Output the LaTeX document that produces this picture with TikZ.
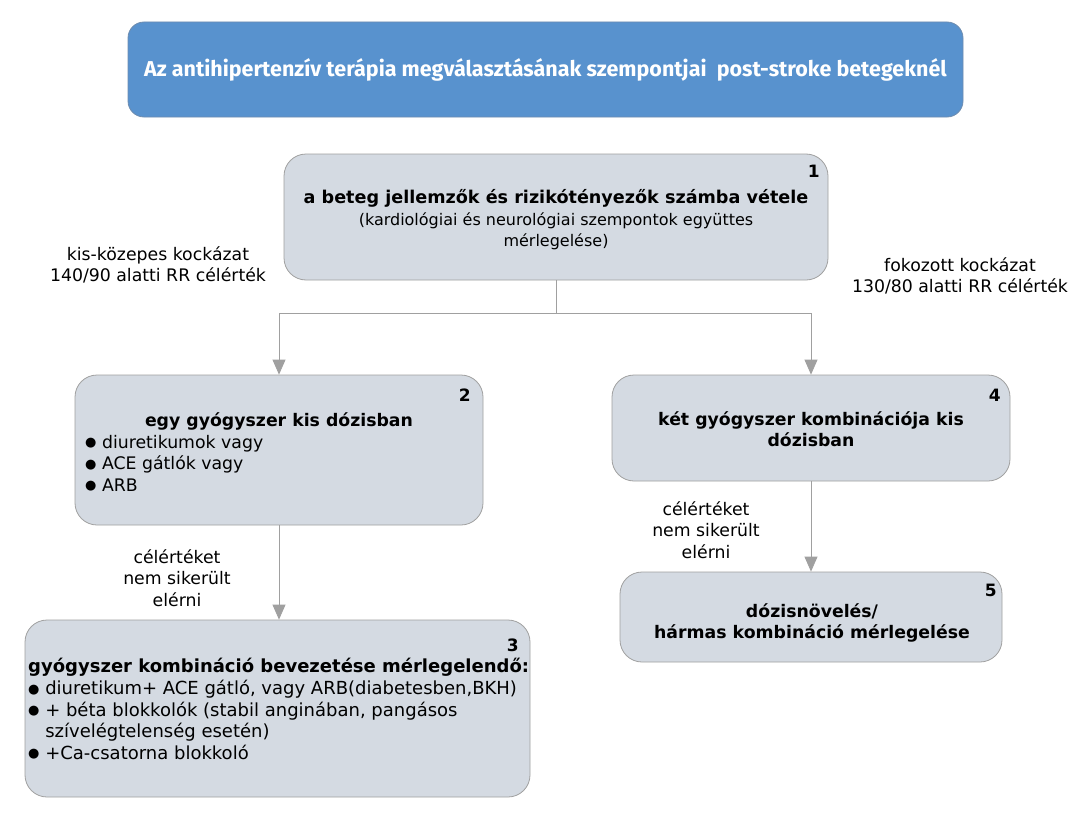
\documentclass[tikz,border=0pt]{standalone}
\usepackage{fontspec}
\setmainfont{DejaVu Sans}
\newfontfamily\headfont{Fira Sans}
\usetikzlibrary{arrows.meta,positioning}
\definecolor{headblue}{RGB}{88,146,206}
\definecolor{headedge}{RGB}{110,140,175}
\definecolor{boxgray}{RGB}{212,218,226}
\definecolor{linegray}{RGB}{160,160,160}
\newcommand{\blt}{\raisebox{1.5pt}{\fontsize{13}{13}\selectfont●}\ }

\begin{document}
\begin{tikzpicture}[x=1pt,y=-1pt]
  \tikzstyle{head}=[draw=headedge,thick,rounded corners=16pt,fill=headblue,
    minimum width=835pt,minimum height=95pt,text=white,font=\headfont\fontsize{21.5}{21.5}\selectfont\bfseries]
  \tikzstyle{box}=[draw=linegray,thick,rounded corners=22pt,fill=boxgray,inner sep=0pt]
  \tikzstyle{num}=[anchor=north east,inner sep=0pt,font=\fontsize{17}{17}\selectfont\bfseries]
  \tikzstyle{txt}=[inner sep=0pt,align=center,font=\fontsize{17.3}{21.5}\selectfont]
  \tikzstyle{lst}=[inner sep=0pt,align=left,anchor=west,font=\fontsize{17.3}{21.5}\selectfont]
  \tikzstyle{flow}=[-{Triangle[width=13pt,length=15pt]},linegray,thick]

  \useasboundingbox[fill=white] (0,0) rectangle (1084,816);

  % -- Title --
  \node[head] (head) at (545.5,69.5) {Az antihipertenzív terápia megválasztásának szempontjai \ post-stroke betegeknél};

  % -- Step 1 --
  \node[box,minimum width=544pt,minimum height=126pt] (b1) at (556,217) {};
  \node[num] (n1) at (820,165) {1};
  \node[txt,font=\fontsize{16}{21.5}\selectfont] (t1) at (556,220)
    {{\fontsize{17.6}{21.5}\selectfont\bfseries a beteg jellemzők és rizikótényezők számba vétele}\\
    (kardiológiai és neurológiai szempontok együttes\\ mérlegelése)};

  % -- Risk labels --
  \node[txt] (lowrisk) at (158,265) {kis-közepes kockázat\\ 140/90 alatti RR célérték};
  \node[txt] (highrisk) at (960,276) {fokozott kockázat\\ 130/80 alatti RR célérték};

  % -- Step 2 --
  \node[box,minimum width=408pt,minimum height=150pt] (b2) at (279,450) {};
  \node[num] (n2) at (471,389) {2};
  \node[txt,font=\fontsize{17.3}{21.5}\selectfont\bfseries] (t2) at (279,421) {egy gyógyszer kis dózisban};
  \node[lst] (l2) at (85,463) {\blt diuretikumok vagy\\ \blt ACE gátlók vagy\\ \blt ARB};

  % -- Step 4 --
  \node[box,minimum width=398pt,minimum height=106pt] (b4) at (811,428) {};
  \node[num] (n4) at (1001,389) {4};
  \node[txt,font=\fontsize{17.3}{21.5}\selectfont\bfseries] (t4) at (811,429) {két gyógyszer kombinációja kis\\ dózisban};

  % -- Step 3 --
  \node[box,minimum width=505pt,minimum height=177pt] (b3) at (277.5,708.5) {};
  \node[num] (n3) at (519,639) {3};
  \node[lst,font=\fontsize{18}{21.5}\selectfont\bfseries] (t3) at (28,667) {gyógyszer kombináció bevezetése mérlegelendő:};
  \node[lst,font=\fontsize{18}{21.5}\selectfont] (l3) at (28,720) {\blt diuretikum+ ACE gátló, vagy ARB(diabetesben,BKH)\\
    \blt + béta blokkolók (stabil anginában, pangásos\\
    \hphantom{\blt}szívelégtelenség esetén)\\
    \blt +Ca-csatorna blokkoló};

  % -- Step 5 --
  \node[box,minimum width=382pt,minimum height=90pt] (b5) at (811,617) {};
  \node[num] (n5) at (997,584) {5};
  \node[txt,font=\fontsize{17.3}{21.5}\selectfont\bfseries] (t5) at (812,623) {dózisnövelés/\\ hármas kombináció mérlegelése};

  % -- Failure labels --
  \node[txt] (fail2) at (177,578) {célértéket\\ nem sikerült\\ elérni};
  \node[txt] (fail4) at (706,530) {célértéket\\ nem sikerült\\ elérni};

  % -- Flows --
  \coordinate (split) at (556,313);
  \draw[linegray,thick] (b1.south) -- (split);
  \draw[flow] (split) -| (b2.north);
  \draw[flow] (split) -| (b4.north);
  \draw[flow] (b2.south) -- (b2.south |- b3.north);
  \draw[flow] (b4.south) -- (b5.north);
\end{tikzpicture}
\end{document}
